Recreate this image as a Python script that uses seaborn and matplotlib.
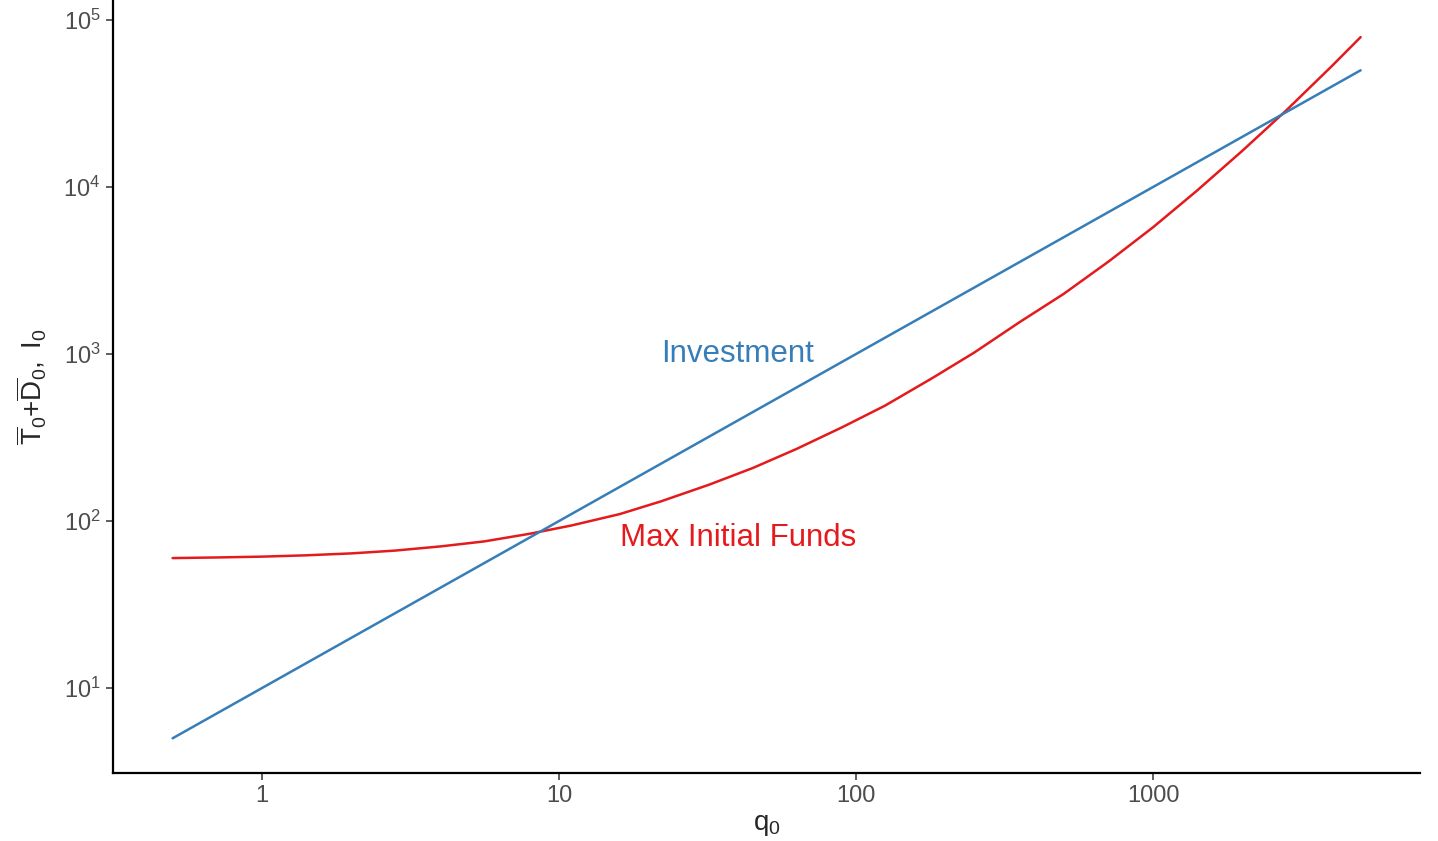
import matplotlib
matplotlib.use("Agg")
import matplotlib.pyplot as plt
import seaborn as sns
import pandas as pd
import numpy as np

# Investment (I0)
q_invest = [0.5, 1, 10, 100, 1000, 5000]
invest = [5, 10, 100, 1000, 10000, 50000]

# Max initial funds (T0 + D0)
q_funds = [0.5, 0.7, 1, 1.4, 2, 2.8, 4, 5.6, 8, 11, 16, 22, 32, 45, 63, 90,
           125, 180, 250, 355, 500, 710, 1000, 1400, 2000, 2800, 4000, 5000]
funds = [60, 60.5, 61.2, 62.3, 64, 66.5, 70.5, 75.5, 84, 94, 110, 131, 165, 208,
         270, 365, 490, 715, 1020, 1550, 2290, 3590, 5740, 9450, 16500, 28600,
         53000, 79000]

x_ticks = [1, 10, 100, 1000]
x_ticklabels = ["1", "10", "100", "1000"]

blue = "#377EB8"
red = "#E41A1C"

df_invest = pd.DataFrame({"q0": q_invest, "valeur": invest})
df_funds = pd.DataFrame({"q0": q_funds, "valeur": funds})

sns.set_theme(style="ticks")
plt.rcParams["font.family"] = ["Liberation Sans", "DejaVu Sans"]
plt.rcParams["mathtext.fontset"] = "custom"
plt.rcParams["mathtext.rm"] = "Liberation Sans"
plt.rcParams["mathtext.it"] = "Liberation Sans:italic"
plt.rcParams["mathtext.bf"] = "Liberation Sans:bold"

fig = plt.figure(figsize=(14.38, 8.41), dpi=100)
ax = fig.add_axes([0.0786, 0.0809, 0.9089, 0.9191])

sns.lineplot(data=df_funds, x="q0", y="valeur", color=red, linewidth=1.8, ax=ax)
sns.lineplot(data=df_invest, x="q0", y="valeur", color=blue, linewidth=1.8, ax=ax)

ax.set_xscale("log")
ax.set_yscale("log")
ax.set_xlim(0.315, 7925)
ax.set_ylim(3.1, 131800)
ax.set_xticks(x_ticks)
ax.set_xticklabels(x_ticklabels)
ax.minorticks_off()

ax.tick_params(axis="both", labelsize=17, labelcolor="#4D4D4D", color="#333333",
               length=5, width=1.1, pad=4)
for s in ["left", "bottom"]:
    ax.spines[s].set_linewidth(1.6)
    ax.spines[s].set_color("black")
sns.despine(ax=ax)

ax.set_xlabel(r"$\mathregular{q_0}$", fontsize=20, labelpad=3)
ax.set_ylabel(r"$\overline{\mathregular{T}}_\mathregular{0}\mathregular{+}\overline{\mathregular{D}}_\mathregular{0}\mathregular{,\ I_0}$",
              fontsize=20, labelpad=10)

# étiquettes des courbes
ax.text(40, 1000, "Investment", color=blue, fontsize=22.5, ha="center", va="center")
ax.text(40, 79, "Max Initial Funds", color=red, fontsize=22.5, ha="center", va="center")

fig.savefig("out.png", dpi=100)
